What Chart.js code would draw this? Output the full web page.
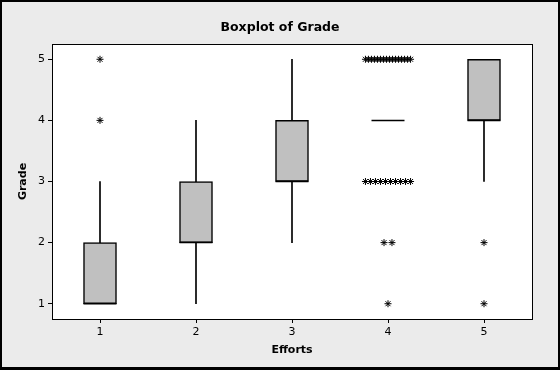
<!DOCTYPE html>
<html>
<head>
<meta charset="utf-8">
<script src="https://cdn.jsdelivr.net/npm/chart.js@4.4.1/dist/chart.umd.min.js"></script>
<style>
  body { margin: 0; background: #ebebeb; }
  canvas { display: block; }
</style>
</head>
<body>
<canvas id="boxplot" width="560" height="370"></canvas>
<script>
// Efforts categories and box statistics for Grade
var efforts = [1, 2, 3, 4, 5];
var q1 = [1, 2, 3, 4, 4];
var median = [1, 2, 3, 4, 4];
var q3 = [2, 3, 4, 4, 5];
var whiskerLow = [1, 1, 2, 4, 3];
var whiskerHigh = [3, 4, 5, 4, 5];

// outliers: effort, grade, how many tied points
var outlierEffort = [1, 1, 4, 4, 4, 4, 5, 5];
var outlierGrade = [4, 5, 1, 2, 3, 5, 1, 2];
var outlierCount = [1, 1, 1, 2, 10, 16, 1, 1];

var gradeTicks = [1, 2, 3, 4, 5];

var boxes = efforts.map(function (e, i) { return { x: e, y: [q1[i], q3[i]] }; });
var whiskers = efforts.map(function (e, i) { return { x: e, y: [whiskerLow[i], whiskerHigh[i]] }; });
var medians = efforts.map(function (e, i) { return { x: e, y: median[i] }; });

// tied outliers are spread sideways like Minitab does
var outliers = [];
outlierEffort.forEach(function (e, i) {
    var n = outlierCount[i];
    var step = n > 1 ? Math.min(0.083, 0.47 / (n - 1)) : 0;
    for (var k = 0; k < n; k++) {
        outliers.push({ x: e + (k - (n - 1) / 2) * step, y: outlierGrade[i] });
    }
});

var frame = {
    id: 'frame',
    beforeDraw: function (chart) {
        var ctx = chart.ctx, a = chart.chartArea;
        ctx.save();
        ctx.fillStyle = '#ebebeb';
        ctx.fillRect(0, 0, chart.width, chart.height);
        ctx.fillStyle = '#ffffff';
        ctx.fillRect(a.left, a.top, a.right - a.left, a.bottom - a.top);
        ctx.restore();
    },
    afterDraw: function (chart) {
        var ctx = chart.ctx, a = chart.chartArea;
        ctx.save();
        ctx.strokeStyle = '#000';
        ctx.lineWidth = 1;
        ctx.strokeRect(a.left + 0.5, a.top + 0.5, a.right - a.left, a.bottom - a.top);
        ctx.lineWidth = 2;
        ctx.strokeRect(1, 1, chart.width - 2, chart.height - 2);
        ctx.fillStyle = '#000';
        ctx.fillRect(chart.width - 2, 0, 2, chart.height);
        ctx.fillRect(0, chart.height - 3, chart.width, 3);
        ctx.restore();
    }
};

var font = "'DejaVu Sans', Verdana, sans-serif";

var chart = new Chart(document.getElementById('boxplot'), {
    type: 'bar',
    data: {
        datasets: [{
            label: 'Box',
            data: boxes,
            backgroundColor: '#c0c0c0',
            borderColor: '#000',
            borderWidth: 1.5,
            borderSkipped: false,
            barThickness: 33,
            grouped: false,
            order: 2
        }, {
            label: 'Whisker',
            data: whiskers,
            backgroundColor: '#000',
            borderWidth: 0,
            barThickness: 1,
            grouped: false,
            order: 3
        }, {
            type: 'scatter',
            label: 'Median',
            data: medians,
            pointStyle: 'line',
            pointRadius: 16.5,
            borderColor: '#000',
            borderWidth: 1.5,
            order: 1
        }, {
            type: 'scatter',
            label: 'Outliers',
            data: outliers,
            pointStyle: 'star',
            pointRadius: 3.5,
            borderColor: '#000',
            backgroundColor: '#000',
            borderWidth: 1,
            order: 0
        }]
    },
    options: {
        responsive: false,
        animation: false,
        layout: { padding: 0 },
        plugins: {
            legend: { display: false },
            tooltip: { enabled: false },
            title: {
                display: true,
                text: 'Boxplot of Grade',
                color: '#000',
                font: { family: font, size: 12.5, weight: 'bold', lineHeight: 1.2 },
                padding: { top: 20, bottom: 9 }
            }
        },
        scales: {
            x: {
                type: 'linear',
                min: 0.5,
                max: 5.5,
                offset: false,
                afterBuildTicks: function (s) { s.ticks = efforts.map(function (v) { return { value: v }; }); },
                afterFit: function (s) { s.height = 51; },
                grid: { offset: false, drawOnChartArea: false, drawTicks: true, tickLength: 4, color: '#000' },
                border: { display: false },
                ticks: { color: '#000', padding: 3, font: { family: font, size: 11 } },
                title: {
                    display: true, text: 'Efforts', color: '#000',
                    font: { family: font, size: 11, weight: 'bold', lineHeight: 1.2 },
                    padding: { top: 0, bottom: 13 }
                }
            },
            y: {
                type: 'linear',
                min: 0.75,
                max: 5.25,
                afterBuildTicks: function (s) { s.ticks = gradeTicks.map(function (v) { return { value: v }; }); },
                afterFit: function (s) { s.width = 52; },
                grid: { drawOnChartArea: false, drawTicks: true, tickLength: 4, color: '#000' },
                border: { display: false },
                ticks: { color: '#000', padding: 3, font: { family: font, size: 11 } },
                title: {
                    display: true, text: 'Grade', color: '#000',
                    font: { family: font, size: 11, weight: 'bold', lineHeight: 1.2 },
                    padding: { top: 17, bottom: 0 }
                }
            },
            // empty right margin so the title centres on the whole picture
            right: {
                type: 'linear',
                position: 'right',
                display: true,
                grid: { display: false },
                border: { display: false },
                ticks: { display: false },
                afterFit: function (s) { s.width = 28; }
            }
        }
    },
    plugins: [frame]
});
</script>
</body>
</html>
